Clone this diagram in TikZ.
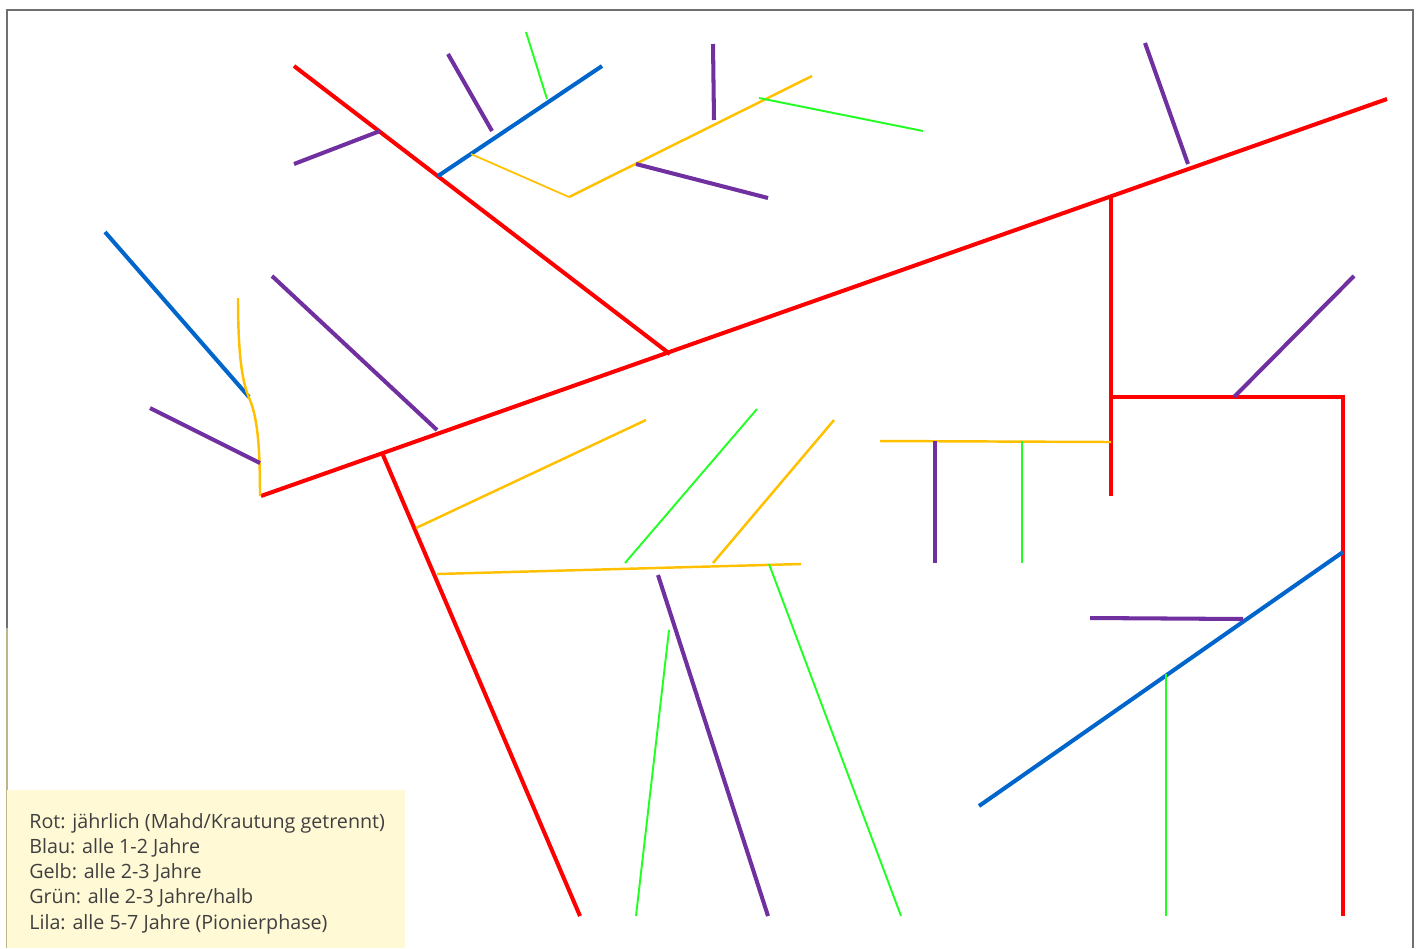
\documentclass[tikz,border=0pt]{standalone}
\usepackage{fontspec}
\setmainfont{Open Sans}
\definecolor{rotlinie}{HTML}{FF0000}
\definecolor{blaulinie}{HTML}{0066CC}
\definecolor{gelblinie}{HTML}{FFC000}
\definecolor{gruenlinie}{HTML}{22FF22}
\definecolor{lilalinie}{HTML}{7030A0}
\definecolor{rahmen}{HTML}{707070}
\definecolor{legendfill}{HTML}{FFF9D6}
\definecolor{legendrand}{HTML}{BDB58C}
\definecolor{legendtext}{HTML}{3F3F3F}

\begin{document}
\begin{tikzpicture}[x=0.02cm, y=-0.02cm,
    rot/.style={rotlinie, line width=2.3pt},
    blau/.style={blaulinie, line width=2.3pt},
    lila/.style={lilalinie, line width=2.3pt},
    gelb/.style={gelblinie, line width=1.4pt},
    gruen/.style={gruenlinie, line width=1.1pt}]

  % === Grabenplan: Pflegeintervalle nach Farbe ===
  \useasboundingbox (0,0) rectangle (1419,948);

  % Rahmen
  \draw[rahmen, line width=0.8pt] (7,628) -- (7,10) -- (1413,10) -- (1413,948);
  \draw[legendrand, line width=0.8pt] (7,628) -- (7,948);

  % Legende (Hintergrund)
  \fill[legendfill] (7,790) rectangle (405,948);

  % --- Rot: Hauptgraeben ---
  \draw[rot] (261,496) -- (1387,99);
  \draw[rot] (294,66) -- (670,354);
  \draw[rot] (383,455) -- (580,916);
  \draw[rot] (1111,197) -- (1111,496);
  \draw[rot] (1111,397) -- (1343,397) -- (1343,916);

  % --- Blau ---
  \draw[blau] (105,232) -- (249,397);
  \draw[blau] (438,176) -- (602,66);
  \draw[blau] (979,806) -- (1343,552);

  % --- Gelb ---
  \draw[gelb, line width=1pt] (471,154) -- (569,197);
  \draw[gelb] (569,197) -- (812,76);
  \draw[gelb] (238,298) .. controls (238,360) and (243,385) .. (250,400)
    .. controls (258,420) and (260,450) .. (260,496);
  \draw[gelb] (416,528) -- (646,420);
  \draw[gelb] (437,574) -- (801,564);
  \draw[gelb] (713,563) -- (834,420);
  \draw[gelb] (880,441) -- (1111,442);

  % --- Gruen ---
  \draw[gruen] (526,32) -- (547,99);
  \draw[gruen] (759,98) -- (923,131);
  \draw[gruen] (625,563) -- (757,409);
  \draw[gruen] (636,916) -- (669,630);
  \draw[gruen] (769,564) -- (901,916);
  \draw[gruen] (1022,441) -- (1022,563);
  \draw[gruen] (1166,674) -- (1166,916);

  % --- Lila ---
  \draw[lila] (294,164) -- (380,131);
  \draw[lila] (448,54) -- (492,131);
  \draw[lila] (713,44) -- (714,120);
  \draw[lila] (636,164) -- (768,198);
  \draw[lila] (1145,43) -- (1188,164);
  \draw[lila] (272,276) -- (437,430);
  \draw[lila] (150,408) -- (260,463);
  \draw[lila] (1234,397) -- (1354,276);
  \draw[lila] (935,441) -- (935,563);
  \draw[lila] (1090,618) -- (1243,619);
  \draw[lila] (658,575) -- (768,916);

  % Legende (Text)
  \node[anchor=north west, inner sep=0pt, align=left, text=legendtext,
        font=\fontsize{11.2}{14.35}\selectfont] (legende) at (29,813)
    {Rot: jährlich (Mahd/Krautung getrennt)\\
     Blau: alle 1-2 Jahre\\
     Gelb: alle 2-3 Jahre\\
     Grün: alle 2-3 Jahre/halb\\
     Lila: alle 5-7 Jahre (Pionierphase)};

\end{tikzpicture}
\end{document}
